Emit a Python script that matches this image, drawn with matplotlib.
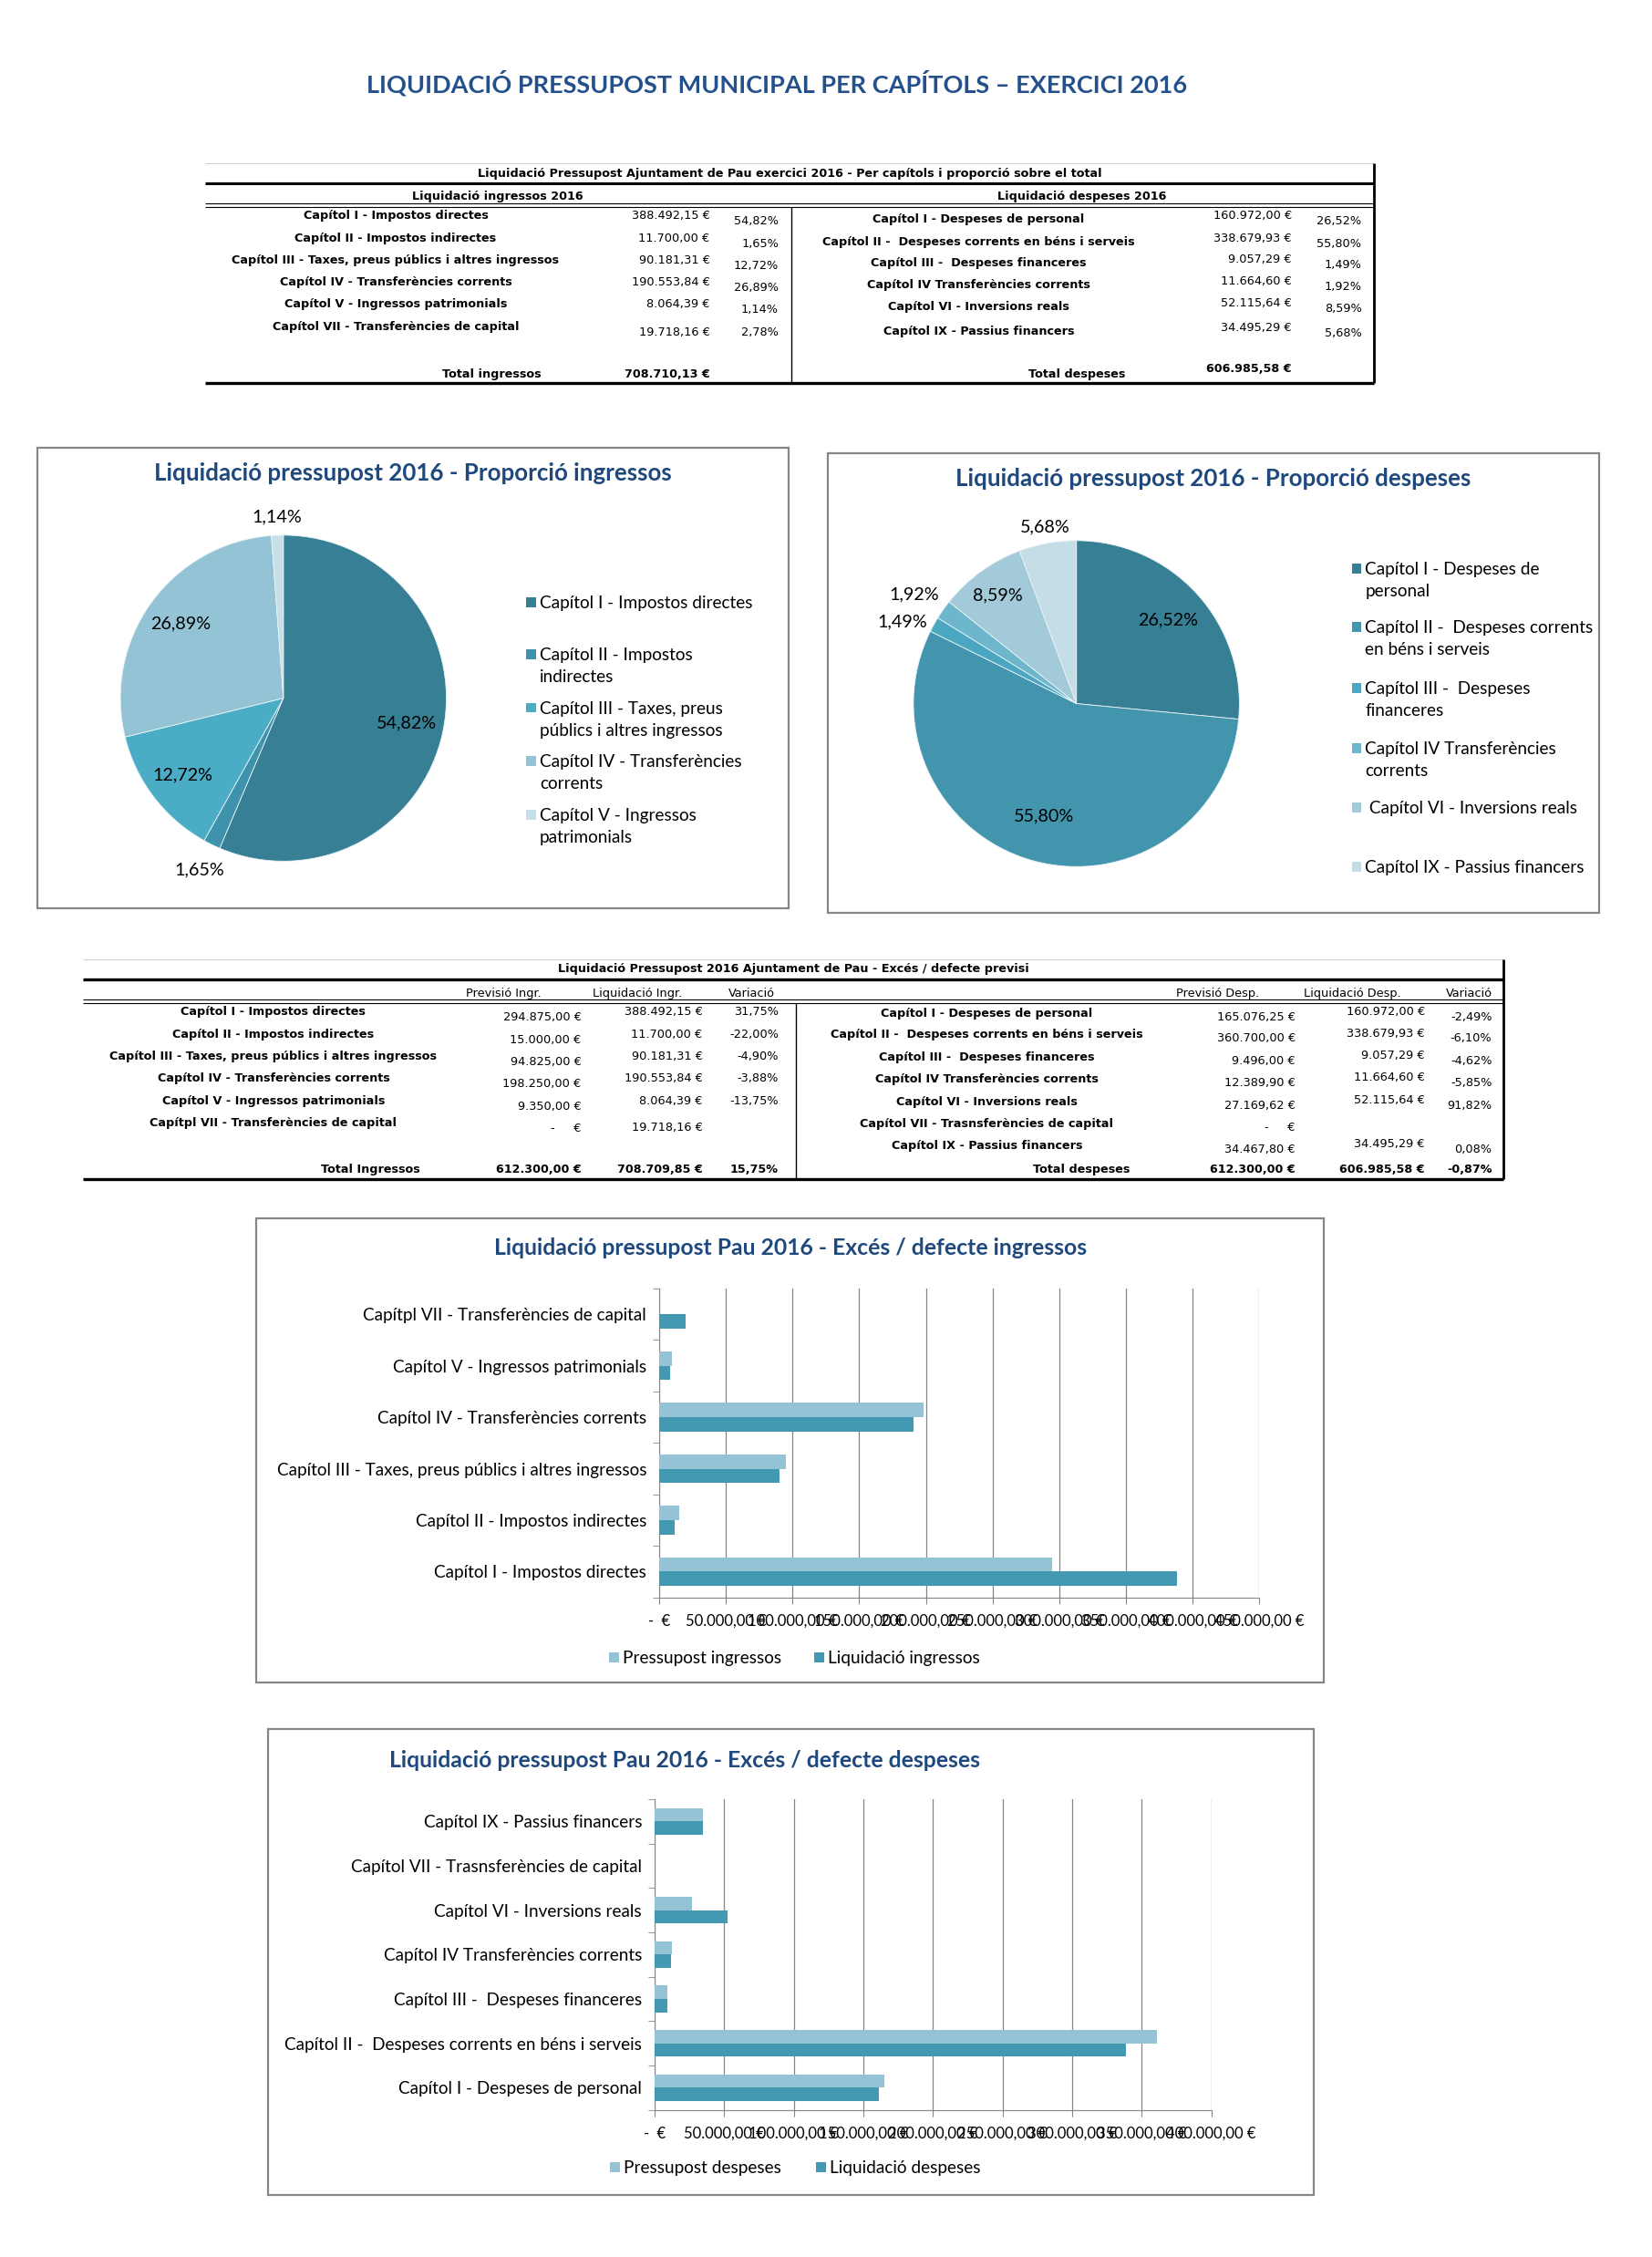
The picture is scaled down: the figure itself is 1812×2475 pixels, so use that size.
import matplotlib
matplotlib.use("Agg")
import numpy as np
import matplotlib.pyplot as plt
from matplotlib.patches import Rectangle
from matplotlib.ticker import FuncFormatter, FixedLocator

# ---- data ----
ing_labels = ["Capítol I - Impostos directes",
              "Capítol II - Impostos indirectes",
              "Capítol III - Taxes, preus públics i altres ingressos",
              "Capítol IV - Transferències corrents",
              "Capítol V - Ingressos patrimonials",
              "Capítol VII - Transferències de capital"]
ing_liq = [388492.15, 11700.00, 90181.31, 190553.84, 8064.39, 19718.16]
ing_pct = [54.82, 1.65, 12.72, 26.89, 1.14, 2.78]
ing_total = 708710.13

desp_labels = ["Capítol I - Despeses de personal",
               "Capítol II -  Despeses corrents en béns i serveis",
               "Capítol III -  Despeses financeres",
               "Capítol IV Transferències corrents",
               "Capítol VI - Inversions reals",
               "Capítol IX - Passius financers"]
desp_liq = [160972.00, 338679.93, 9057.29, 11664.60, 52115.64, 34495.29]
desp_pct = [26.52, 55.80, 1.49, 1.92, 8.59, 5.68]
desp_total = 606985.58

# pie legends (wrapped as in the chart)
ing_pie_legend = ["Capítol I - Impostos directes",
                  "Capítol II - Impostos\nindirectes",
                  "Capítol III - Taxes, preus\npúblics i altres ingressos",
                  "Capítol IV - Transferències\ncorrents",
                  "Capítol V - Ingressos\npatrimonials"]
desp_pie_legend = ["Capítol I - Despeses de\npersonal",
                   "Capítol II -  Despeses corrents\nen béns i serveis",
                   "Capítol III -  Despeses\nfinanceres",
                   "Capítol IV Transferències\ncorrents",
                   " Capítol VI - Inversions reals",
                   "Capítol IX - Passius financers"]

# excés / defecte
ing2_labels = ["Capítol I - Impostos directes",
               "Capítol II - Impostos indirectes",
               "Capítol III - Taxes, preus públics i altres ingressos",
               "Capítol IV - Transferències corrents",
               "Capítol V - Ingressos patrimonials",
               "Capítpl VII - Transferències de capital"]
ing2_prev = [294875.00, 15000.00, 94825.00, 198250.00, 9350.00, None]
ing2_liq = [388492.15, 11700.00, 90181.31, 190553.84, 8064.39, 19718.16]
ing2_var = [31.75, -22.00, -4.90, -3.88, -13.75, None]
ing2_tot = [612300.00, 708709.85, 15.75]

desp2_labels = ["Capítol I - Despeses de personal",
                "Capítol II -  Despeses corrents en béns i serveis",
                "Capítol III -  Despeses financeres",
                "Capítol IV Transferències corrents",
                "Capítol VI - Inversions reals",
                "Capítol VII - Trasnsferències de capital",
                "Capítol IX - Passius financers"]
desp2_prev = [165076.25, 360700.00, 9496.00, 12389.90, 27169.62, None, 34467.80]
desp2_liq = [160972.00, 338679.93, 9057.29, 11664.60, 52115.64, None, 34495.29]
desp2_var = [-2.49, -6.10, -4.62, -5.85, 91.82, None, 0.08]
desp2_tot = [612300.00, 606985.58, -0.87]

# ---- style ----
W, H = 1812, 2475
S = 0.993            # layout units -> pixels
NAVY = "#1F497D"
GRID = "#868686"
LIGHT = "#93C3D5"
DARK = "#4399B1"
ing_colors = ["#377F94", "#3F92AB", "#4BACC6", "#93C3D4", "#C6DFE9"]
desp_colors = ["#377F94", "#4394AD", "#4AA6C1", "#6EB6CC", "#A3CAD9", "#C5DDE6"]
CF = "Lato"          # chart font
TF = "DejaVu Sans"   # table font
TB = 9.2             # table bold size
TV = 9.3             # table value size


def eur(v):
    if v is None:
        return "-     €"
    s = f"{v:,.2f}".replace(",", "X").replace(".", ",").replace("X", ".")
    return s + " €"


def pct(v):
    if v is None:
        return ""
    return f"{v:.2f}".replace(".", ",") + "%"


fig = plt.figure(figsize=(W / 100, H / 100), dpi=100)
bg = fig.add_axes([0, 0, 1, 1])
bg.set_xlim(0, W / S)
bg.set_ylim(H / S, 0)
bg.axis("off")


def axes_px(x0, y0, x1, y1):
    w, h = W / S, H / S
    return fig.add_axes([x0 / w, 1 - y1 / h, (x1 - x0) / w, (y1 - y0) / h])


def hline(x0, x1, y, lw, color="black"):
    bg.plot([x0, x1], [y, y], color=color, lw=lw, solid_capstyle="butt")


def vline(x, y0, y1, lw, color="black"):
    bg.plot([x, x], [y0, y1], color=color, lw=lw, solid_capstyle="butt")


def box(x0, y0, x1, y1):
    bg.add_patch(Rectangle((x0, y0), x1 - x0, y1 - y0, fill=False,
                           edgecolor=GRID, lw=1.6))


def t(x, y, s, ha="center", size=TV, bold=False, family=TF, color="black"):
    bg.text(x, y, s, ha=ha, va="center", fontsize=size, family=family,
            fontweight="bold" if bold else "normal", color=color)


# ---- main title ----
t(858, 92, "LIQUIDACIÓ PRESSUPOST MUNICIPAL PER CAPÍTOLS – EXERCICI 2016",
  size=19.5, bold=True, family=CF, color="#24508C")

# ---- table 1 ----
L, R, D = 227, 1518, 874
hline(L, R, 180, 0.8, "#D0D0D0")
t(872, 192, "Liquidació Pressupost Ajuntament de Pau exercici 2016 - Per capítols i proporció sobre el total", bold=True, size=TB)
hline(L, R, 202, 2.2)
t(550, 217, "Liquidació ingressos 2016", bold=True, size=TB)
t(1195, 217, "Liquidació despeses 2016", bold=True, size=TB)
hline(L, R, 225, 0.8)
hline(L, R, 229, 0.8)
vline(D, 229, 423, 1.0)
vline(R, 180, 423, 2.0)
hline(L, R, 423, 2.4)

rows_l = [238, 263, 288, 312, 336, 361]
for i, lab in enumerate(ing_labels):
    t(437, rows_l[i], lab, bold=True, size=TB)
    t(784, rows_l[i] + (0 if i < 5 else 6), eur(ing_liq[i]), ha="right")
    t(860, rows_l[i] + 6, pct(ing_pct[i]), ha="right")
t(598, 413, "Total ingressos", ha="right", bold=True, size=TB)
t(784, 413, eur(ing_total), ha="right", bold=True, size=TB)

rows_r = [242, 267, 291, 315, 339, 366]
for i, lab in enumerate(desp_labels):
    t(1081, rows_r[i], lab, bold=True, size=TB)
    t(1427, rows_r[i] - 4, eur(desp_liq[i]), ha="right")
    t(1504, rows_r[i] + 2, pct(desp_pct[i]), ha="right")
t(1243, 413, "Total despeses", ha="right", bold=True, size=TB)
t(1427, 407, eur(desp_total), ha="right", bold=True, size=TB)


# ---- pies ----
def pie(cx, cy, r, values, colors, radii, nudges):
    pad = 1.3
    ax = axes_px(cx - pad * r, cy - pad * r, cx + pad * r, cy + pad * r)
    wedges, _ = ax.pie(values, colors=colors, startangle=90, counterclock=False,
                       radius=1, wedgeprops=dict(linewidth=0.6, edgecolor="#EAF3F6"))
    ax.set_xlim(-pad, pad)
    ax.set_ylim(-pad, pad)
    ax.axis("off")
    for w, v, rr, dn in zip(wedges, values, radii, nudges):
        a = np.deg2rad((w.theta1 + w.theta2) / 2 + dn)
        ax.text(rr * np.cos(a), rr * np.sin(a), pct(v), ha="center", va="center",
                fontsize=14.2, family=CF, clip_on=False)
    return ax


def legend_items(x, ys, texts, colors, size=13.7):
    for y, s, c in zip(ys, texts, colors):
        bg.add_patch(Rectangle((x, y - 6), 11, 11, color=c, lw=0))
        bg.text(x + 15, y - 8, s, ha="left", va="top", fontsize=size, family=CF,
                linespacing=1.5)


box(41, 494, 871, 1003)
t(456, 523, "Liquidació pressupost 2016 - Proporció ingressos", size=18.6,
  bold=True, family=CF, color=NAVY)
pie(313, 771, 180, ing_pct[:5], ing_colors, [0.77, 1.17, 0.78, 0.78, 1.11],
    [0, 0, 0, 0, 0])
legend_items(581, [666, 723, 782, 841, 900], ing_pie_legend, ing_colors)

box(914, 501, 1766, 1008)
t(1340, 529, "Liquidació pressupost 2016 - Proporció despeses", size=18.6,
  bold=True, family=CF, color=NAVY)
pie(1189, 777, 180, desp_pct, desp_colors, [0.76, 0.72, 1.18, 1.2, 0.82, 1.1],
    [0, 0, 4, 1.3, 0, 0])
legend_items(1493, [628, 693, 760, 827, 892, 958], desp_pie_legend, desp_colors)

# ---- table 2 ----
L, R, D = 92, 1661, 879
hline(L, R, 1059, 0.8, "#D0D0D0")
t(877, 1070, "Liquidació Pressupost 2016 Ajuntament de Pau - Excés / defecte previsi", bold=True, size=TB)
hline(L, R, 1082, 2.4)
for x, s in [(556, "Previsió Ingr."), (704, "Liquidació Ingr."), (830, "Variació"),
             (1345, "Previsió Desp."), (1494, "Liquidació Desp."), (1623, "Variació")]:
    t(x, 1097, s)
hline(L, R, 1104, 0.8)
hline(L, R, 1108, 0.8)
vline(D, 1108, 1302, 1.0)
vline(R, 1059, 1302, 2.0)
hline(L, R, 1302, 2.4)

rows_l = [1117, 1143, 1167, 1191, 1216, 1240]
for i, lab in enumerate(ing2_labels):
    t(302, rows_l[i], lab, bold=True, size=TB)
    t(642, rows_l[i] + 6, eur(ing2_prev[i]), ha="right")
    t(776, rows_l[i] + (0 if i < 5 else 5), eur(ing2_liq[i]), ha="right")
    t(860, rows_l[i], pct(ing2_var[i]), ha="right")
t(464, 1292, "Total Ingressos", ha="right", bold=True, size=TB)
for x, s in [(642, eur(ing2_tot[0])), (776, eur(ing2_tot[1])), (860, pct(ing2_tot[2]))]:
    t(x, 1292, s, ha="right", bold=True, size=TB)

rows_r = [1121, 1145, 1170, 1194, 1219, 1243, 1267]
for i, lab in enumerate(desp2_labels):
    t(1090, rows_r[i] - 2, lab, bold=True, size=TB)
    t(1431, rows_r[i] + 2, eur(desp2_prev[i]), ha="right")
    if desp2_liq[i] is not None:
        t(1574, rows_r[i] - 4, eur(desp2_liq[i]), ha="right")
    t(1648, rows_r[i] + 2, pct(desp2_var[i]), ha="right")
t(1248, 1292, "Total despeses", ha="right", bold=True, size=TB)
for x, s in [(1431, eur(desp2_tot[0])), (1574, eur(desp2_tot[1])), (1648, pct(desp2_tot[2]))]:
    t(x, 1292, s, ha="right", bold=True, size=TB)


# ---- bar charts ----
def xfmt(v, _):
    return "-  €" if v == 0 else eur(v)


def bars(rect, labels, prev, liq, xmax, h):
    ax = axes_px(*rect)
    y = np.arange(len(labels))
    p = [0 if v is None else v for v in prev]
    q = [0 if v is None else v for v in liq]
    ax.barh(y + h / 2, p, height=h, color=LIGHT, zorder=3)
    ax.barh(y - h / 2, q, height=h, color=DARK, zorder=3)
    ax.set_xlim(0, xmax)
    ax.set_ylim(-0.5, len(labels) - 0.5)
    ax.xaxis.set_major_locator(FixedLocator(np.arange(0, xmax + 1, 50000)))
    ax.xaxis.set_major_formatter(FuncFormatter(xfmt))
    ax.set_yticks(y)
    ax.set_yticklabels(labels, family=CF, fontsize=13.6)
    ax.set_yticks(np.arange(-0.5, len(labels)), minor=True)
    ax.tick_params(axis="y", which="major", length=0, pad=10)
    ax.tick_params(axis="y", which="minor", length=5, color=GRID)
    ax.tick_params(axis="x", length=5, color=GRID, pad=8, labelsize=12)
    for lab in ax.get_xticklabels():
        lab.set_family(CF)
    ax.grid(axis="x", color=GRID, lw=0.9, zorder=0)
    for s in ["top", "right"]:
        ax.spines[s].set_visible(False)
    for s in ["left", "bottom"]:
        ax.spines[s].set_color(GRID)
    ax.set_facecolor("none")
    return ax


box(283, 1345, 1462, 1858)
t(873, 1378, "Liquidació pressupost Pau 2016 - Excés / defecte ingressos", size=17.8,
  bold=True, family=CF, color=NAVY)
bars((728, 1423, 1391, 1764), ing2_labels, ing2_prev, ing2_liq, 450000, 0.28)
legend_items(673, [1831], ["Pressupost ingressos"], [LIGHT])
legend_items(899, [1831], ["Liquidació ingressos"], [DARK])

box(296, 1909, 1451, 2424)
t(756, 1944, "Liquidació pressupost Pau 2016 - Excés / defecte despeses", size=17.8,
  bold=True, family=CF, color=NAVY)
bars((723, 1987, 1338, 2330), desp2_labels, desp2_prev, desp2_liq, 400000, 0.3)
legend_items(674, [2394], ["Pressupost despeses"], [LIGHT])
legend_items(901, [2394], ["Liquidació despeses"], [DARK])

fig.savefig("out.png", dpi=100, facecolor="white")
